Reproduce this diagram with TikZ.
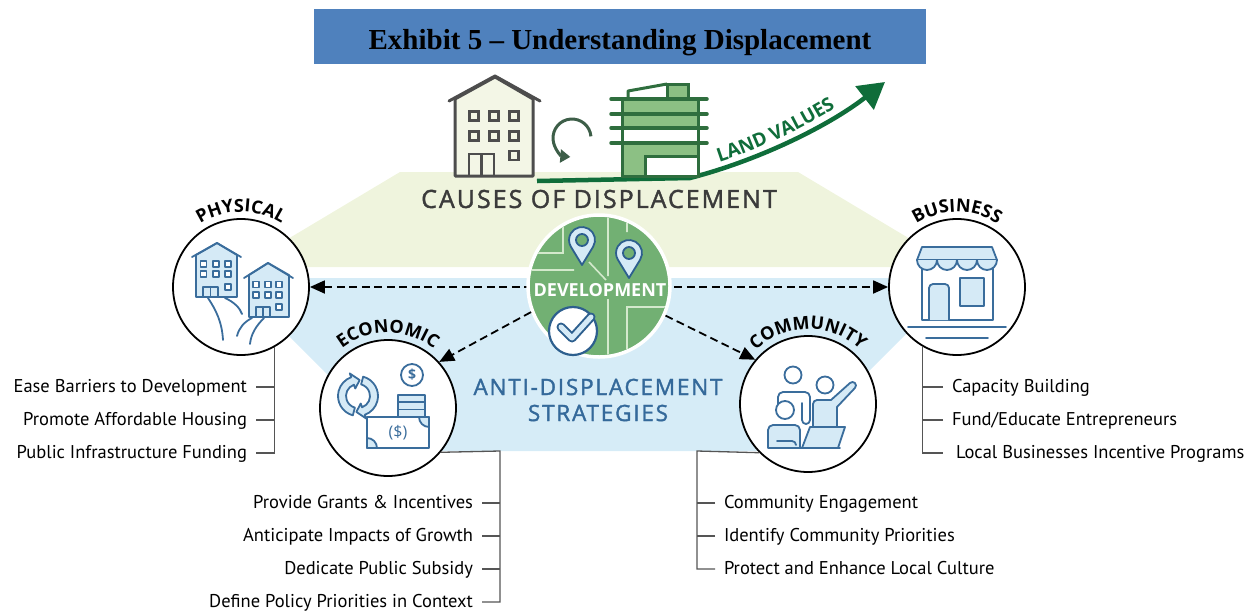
\documentclass[tikz,border=0pt]{standalone}
\usepackage{fontspec}
\setmainfont{PT Sans}
\newfontfamily\capsfont{Open Sans}
\newfontfamily\spacedfont{Open Sans}[LetterSpace=8,FakeBold=1.6]
\newfontfamily\titlefont{Liberation Serif}
\usetikzlibrary{arrows.meta,decorations.text}

\definecolor{titleblue}{HTML}{4F81BD}
\definecolor{causegreen}{HTML}{EFF4DD}
\definecolor{stratblue}{HTML}{D6ECF7}
\definecolor{iconblue}{HTML}{3A6D9C}
\definecolor{iconfill}{HTML}{D5EAF6}
\definecolor{devgreen}{HTML}{72B073}
\definecolor{streetgreen}{HTML}{D3E9CC}
\definecolor{pinblue}{HTML}{2D5F8E}
\definecolor{landgreen}{HTML}{0F6D3A}
\definecolor{newgreen}{HTML}{8CC084}
\definecolor{newstroke}{HTML}{2F6E3E}
\definecolor{oldgray}{HTML}{4D4D4D}
\definecolor{oldfill}{HTML}{F3F6E6}
\definecolor{turngreen}{HTML}{3D5E48}
\definecolor{causegray}{HTML}{3B3B3B}
\definecolor{strattext}{HTML}{34699A}
\definecolor{bracketgray}{HTML}{555555}

\tikzset{
  ring/.style={circle, draw=black, line width=1.8pt, fill=white, minimum size=136pt, inner sep=0pt},
  devcircle/.style={circle, draw=white, line width=3.5pt, fill=devgreen, minimum size=142pt, inner sep=0pt},
  icon/.style={draw=iconblue, line width=1.8pt, line join=round, line cap=round},
  pin/.style={draw=pinblue, line width=1.8pt, fill=iconfill, line join=round},
  item/.style={font=\fontsize{18.5}{18.5}\selectfont, text height=13pt, text depth=3pt, inner sep=0pt, outer sep=9pt},
  bracket/.style={draw=bracketgray, line width=1.3pt},
  dasharrow/.style={dash pattern=on 8pt off 4.5pt, line width=1.8pt},
  bigtip/.tip={Triangle[length=15pt,width=13pt]},
}

\begin{document}
\begin{tikzpicture}[x=1pt,y=1pt]
\useasboundingbox (0,0) rectangle (1256,-611);

% the two bands behind the circles
\fill[causegreen] (400,-172) -- (798,-172) -- (957,-267) -- (241,-267) -- cycle;
\fill[stratblue] (231,-278) -- (962,-278) -- (789,-451) -- (404,-451) -- cycle;

% title bar
\fill[titleblue] (314,-9) rectangle (926,-64);
\node[anchor=base, inner sep=0pt, font=\titlefont\bfseries\fontsize{29}{29}\selectfont] (title) at (620,-49)
  {Exhibit 5 – Understanding Displacement};

% land value arrow with the ground line
\draw[landgreen, line width=4.5pt, -{Triangle[length=26pt,width=29pt]}]
  (537,-181) -- (690,-178) .. controls (760,-160) and (830,-125) .. (885,-82);
\path[decorate, decoration={text along path, raise=7pt, text color=landgreen,
  text align={left indent=33pt},
  text={|\capsfont\bfseries\fontsize{19}{19}\selectfont|LAND VALUES}}]
  (690,-178) .. controls (760,-160) and (830,-125) .. (885,-82);

% old building
\draw[oldgray, line width=3pt, fill=oldfill, line join=round]
  (455,-176) -- (455,-99) -- (495,-77) -- (533,-99) -- (533,-176) -- cycle;
\draw[oldgray, line width=3pt, line cap=round, line join=round] (449,-101) -- (495,-76) -- (540,-101);
\foreach \x in {474,494,514}
  \foreach \y in {116,136}
    \draw[oldgray, line width=2.8pt] (\x-4.5,-\y+4.5) rectangle (\x+4.5,-\y-4.5);
\draw[oldgray, line width=2.8pt] (509.5,-151) rectangle (518.5,-160);
\draw[oldgray, line width=2.8pt] (469,-176) -- (469,-154) -- (494,-154) -- (494,-176) (481.5,-154) -- (481.5,-176);

% turning arrow
\draw[turngreen, line width=3pt, -{Triangle[length=10pt,width=13pt]}]
  (572,-138) ++(5:19) arc[start angle=5, end angle=265, radius=19];

% new building
\fill[newgreen] (622,-99) rectangle (698,-128) (622,-143) rectangle (698,-176);
\fill[white] (645,-156) rectangle (698,-176);
\draw[newstroke, line width=3pt, fill=newgreen] (667,-84) rectangle (688,-99);
\draw[newstroke, line width=3pt, line join=round] (628,-99) -- (628,-91) -- (667,-84);
\draw[newstroke, line width=3pt] (622,-99) rectangle (698,-176);
\draw[newstroke, line width=3pt] (645,-176) -- (645,-156) -- (698,-156);
\foreach \y in {99,114,128,143}
  \draw[newstroke, line width=3.5pt, line cap=round] (611,-\y) -- (707,-\y);

\node[font=\spacedfont\fontsize{25}{25}\selectfont, text=causegray] (causes) at (599,-199)
  {CAUSES OF DISPLACEMENT};

% the four outer circles
\node[ring] (phys) at (241,-287) {};
\node[ring] (eco) at (388,-408) {};
\node[ring] (com) at (808,-404) {};
\node[ring] (bus) at (957,-287) {};

\draw[dasharrow, bigtip-bigtip] (phys.east) -- (bus.west);

% development hub
\node[devcircle] (dev) at (599,-286) {};
\begin{scope}
  \clip (dev) circle[radius=69];
  \draw[streetgreen, line width=1.6pt]
    (608,-210) -- (608,-276) (608,-299) -- (608,-362)
    (627,-210) -- (627,-232)
    (627,-362) -- (627,-307) -- (680,-307)
    (520,-253) -- (563,-253) -- (563,-212)
    (520,-270) -- (574,-270)
    (589,-262) -- (606,-280);
\end{scope}
\foreach \x/\y in {582/240, 629/253} {
  \draw[pin] (\x,-\y-25) -- ([shift={(-31:13)}]\x,-\y)
    arc[start angle=-31, end angle=211, radius=13] -- cycle;
  \draw[pin, fill=devgreen] (\x,-\y) circle[radius=6];
}
\node[font=\capsfont\bfseries\fontsize{18}{18}\selectfont, text=white] (devlabel) at (600,-290) {DEVELOPMENT};
\draw[draw=pinblue, fill=white, line width=2.2pt] (573,-331) circle[radius=24];
\draw[pinblue, line width=9pt, line cap=round, line join=round] (561,-327) -- (572,-338) -- (591,-317);
\draw[iconfill, line width=5pt, line cap=round, line join=round] (561,-327) -- (572,-338) -- (591,-317);

\draw[dasharrow, -bigtip] (dev.201) -- (eco.42);
\draw[dasharrow, -bigtip] (dev.336) -- (com.140);

\node[font=\spacedfont\fontsize{22.5}{26}\selectfont, text=strattext, align=center] (strat) at (598,-400)
  {ANTI-DISPLACEMENT\\STRATEGIES};

% labels round the circles
\path[decorate, decoration={text along path, text align=center,
  text={|\capsfont\bfseries\fontsize{18}{18}\selectfont|PHYSICAL}}]
  (phys.center) ++(160:75) arc[start angle=160, end angle=20, radius=75];
\path[decorate, decoration={text along path, text align=center,
  text={|\capsfont\bfseries\fontsize{18}{18}\selectfont|ECONOMIC}}]
  (eco.center) ++(160:75) arc[start angle=160, end angle=20, radius=75];
\path[decorate, decoration={text along path, text align=center,
  text={|\capsfont\bfseries\fontsize{18}{18}\selectfont|COMMUNITY}}]
  (com.center) ++(160:75) arc[start angle=160, end angle=20, radius=75];
\path[decorate, decoration={text along path, text align=center,
  text={|\capsfont\bfseries\fontsize{18}{18}\selectfont|BUSINESS}}]
  (bus.center) ++(160:75) arc[start angle=160, end angle=20, radius=75];

% physical: two houses on a hill
\draw[icon, fill=iconfill] (196,-297) -- (196,-255) -- (217,-243) -- (237,-255) -- (237,-297) -- cycle;
\draw[icon] (192,-257) -- (217,-243) -- (241,-257);
\draw[icon, fill=iconfill] (249,-317) -- (249,-275) -- (268,-263) -- (289,-275) -- (289,-317) -- cycle;
\draw[icon] (244,-278) -- (268,-263) -- (293,-278);
\foreach \x in {203.5,216,228}
  \foreach \y in {264,274}
    \draw[icon, line width=1.4pt, fill=white] (\x-3,-\y+3) rectangle (\x+3,-\y-3);
\foreach \x in {256,268,279}
  \foreach \y in {284.5,295}
    \draw[icon, line width=1.4pt, fill=white] (\x-3,-\y+3) rectangle (\x+3,-\y-3);
\draw[icon, line width=1.4pt, fill=white] (225,-284) rectangle (231,-290);
\draw[icon, line width=1.4pt, fill=white] (276,-304) rectangle (282,-310);
\draw[icon, line width=1.4pt] (203,-297) -- (203,-287) -- (218,-287) -- (218,-297) (210.5,-287) -- (210.5,-297);
\draw[icon, line width=1.4pt] (256,-317) -- (256,-307) -- (270,-307) -- (270,-317) (263,-307) -- (263,-317);
\draw[icon] (208,-298) .. controls (216,-310) and (222,-322) .. (223,-340);
\draw[icon] (225,-298) .. controls (234,-302) and (240,-308) .. (242,-314);
\draw[icon] (252,-318) .. controls (244,-322) and (239,-328) .. (237,-336);
\draw[icon] (264,-318) .. controls (256,-326) and (251,-334) .. (250,-344);

% economic: cycle arrows, coin, stack and note
\begin{scope}[shift={(358,-396)}]
  \draw[icon, fill=iconfill] (255:20) arc[start angle=255, end angle=110, radius=20]
    -- (110:24) -- (84:16) -- (110:8) -- (110:12) arc[start angle=110, end angle=255, radius=12] -- cycle;
  \draw[icon, fill=iconfill] (75:20) arc[start angle=75, end angle=-70, radius=20]
    -- (-70:24) -- (-96:16) -- (-70:8) -- (-70:12) arc[start angle=-70, end angle=75, radius=12] -- cycle;
\end{scope}
\draw[icon, fill=white] (412,-375) circle[radius=11];
\node[font=\capsfont\bfseries\fontsize{14}{14}\selectfont, text=iconblue] (coin) at (412,-375) {\$};
\draw[icon, fill=iconfill] (398,-395) rectangle (425,-417);
\draw[icon] (398,-402) -- (425,-402) (398,-409.5) -- (425,-409.5);
\draw[icon, fill=white] (367,-417) rectangle (429,-448);
\draw[icon, fill=iconfill] (367,-438) arc[start angle=90, end angle=0, radius=10] -- (367,-448) -- cycle;
\draw[icon, fill=iconfill] (419,-417) arc[start angle=180, end angle=270, radius=10] -- (429,-417) -- cycle;
\node[font=\capsfont\fontsize{16}{16}\selectfont, text=iconblue] (note) at (398,-432.5) {(\$)};

% community: three people and a laptop
\draw[icon, fill=white] (778,-412) -- (778,-397) arc[start angle=180, end angle=90, radius=5]
  -- (805,-392) arc[start angle=90, end angle=0, radius=5] -- (810,-420)
  arc[start angle=0, end angle=-180, radius=4] -- (802,-403);
\draw[icon, fill=white] (793,-375) circle[radius=8.5];
\draw[icon, fill=iconfill] (813,-427) -- (813,-404) arc[start angle=180, end angle=90, radius=4]
  -- (831,-400) -- (850,-383) arc[start angle=135, end angle=-45, radius=3.5]
  -- (837,-407) -- (837,-427);
\draw[icon, fill=white] (825,-385) circle[radius=8.5];
\draw[icon, fill=iconfill] (768,-448) -- (768,-430) arc[start angle=180, end angle=90, radius=5]
  -- (795,-425) arc[start angle=90, end angle=0, radius=5] -- (800,-448) -- cycle;
\draw[icon] (777,-441) -- (792,-441) arc[start angle=90, end angle=0, radius=4];
\draw[icon, fill=white] (785,-410) circle[radius=9];
\draw[icon, fill=iconfill] (810,-427) -- (845,-427) -- (838,-448) -- (802,-448) -- cycle;
\draw[icon] (795,-448) -- (840,-448);

% business: shop front
\draw[icon, fill=white] (922,-260) rectangle (993,-320);
\draw[icon, fill=iconfill] (922,-247) -- (992,-247) -- (997,-260) -- (917,-260) -- cycle;
\foreach \i in {0,...,3}
  \draw[icon, fill=iconfill] (917+\i*20,-260) arc[start angle=180, end angle=360, radius=10];
\draw[icon, fill=iconfill] (929,-320) -- (929,-288) arc[start angle=180, end angle=90, radius=4]
  -- (945,-284) arc[start angle=90, end angle=0, radius=4] -- (949,-320);
\draw[icon, fill=iconfill] (960,-278) rectangle (984,-306);
\draw[icon] (908,-327) -- (1006,-327);
\draw[icon] (926,-338) -- (988,-338);

% strategy lists
\node[item, anchor=east] (pa1) at (256,-387) {Ease Barriers to Development};
\node[item, anchor=east] (pa2) at (256,-420) {Promote Affordable Housing};
\node[item, anchor=east] (pa3) at (256,-453) {Public Infrastructure Funding};
\draw[bracket] (phys.299) |- (pa3.east);
\draw[bracket] (pa1.east) -- (pa1.east -| phys.299);
\draw[bracket] (pa2.east) -- (pa2.east -| phys.299);

\node[item, anchor=east] (eb1) at (482,-503) {Provide Grants \& Incentives};
\node[item, anchor=east] (eb2) at (482,-536) {Anticipate Impacts of Growth};
\node[item, anchor=east] (eb3) at (482,-569) {Dedicate Public Subsidy};
\node[item, anchor=east] (eb4) at (482,-602) {Define Policy Priorities in Context};
\coordinate (ecorner) at (500,-451);
\draw[bracket] (eco.320) -- (ecorner) |- (eb4.east);
\foreach \n in {eb1,eb2,eb3}
  \draw[bracket] (\n.east) -- (\n.east -| ecorner);

\node[item, anchor=west] (cc1) at (715,-503) {Community Engagement};
\node[item, anchor=west] (cc2) at (715,-536) {Identify Community Priorities};
\node[item, anchor=west] (cc3) at (715,-569) {Protect and Enhance Local Culture};
\coordinate (ccorner) at (697,-451);
\draw[bracket] (com.225) -- (ccorner) |- (cc3.west);
\foreach \n in {cc1,cc2}
  \draw[bracket] (\n.west) -- (\n.west -| ccorner);

\node[item, anchor=west] (bd1) at (943,-387) {Capacity Building};
\node[item, anchor=west] (bd2) at (943,-420) {Fund/Educate Entrepreneurs};
\node[item, anchor=west] (bd3) at (943,-453) {\hspace{4pt}Local Businesses Incentive Programs};
\draw[bracket] (bus.240) |- (bd3.west);
\draw[bracket] (bd1.west) -- (bd1.west -| bus.240);
\draw[bracket] (bd2.west) -- (bd2.west -| bus.240);
\end{tikzpicture}
\end{document}
